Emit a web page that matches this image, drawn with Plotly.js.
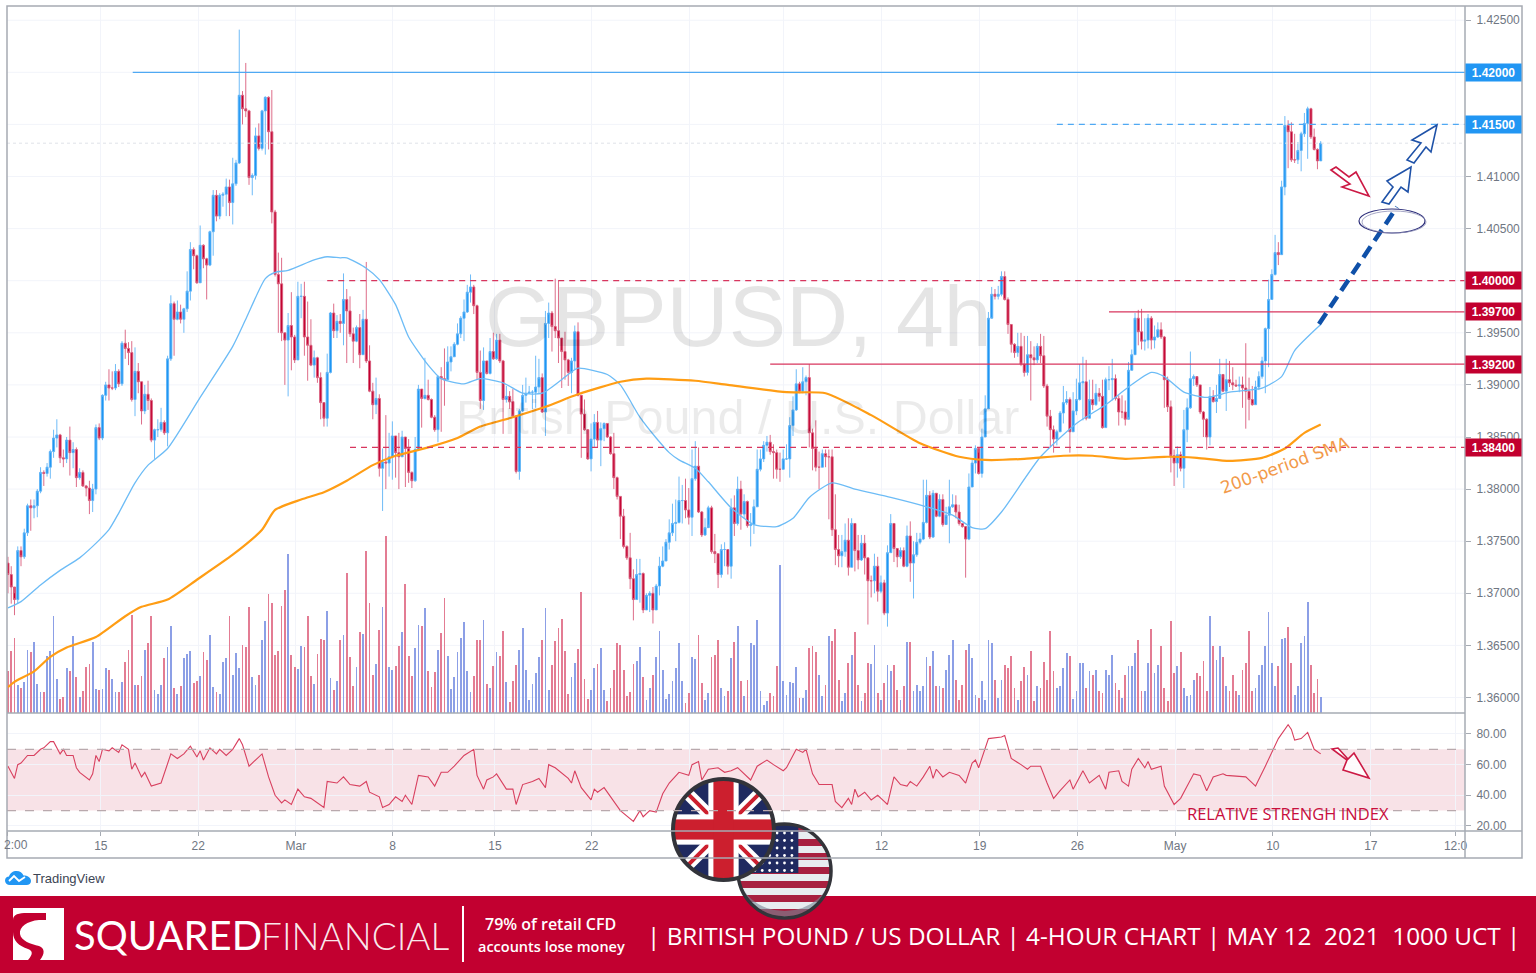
<!DOCTYPE html>
<html><head><meta charset="utf-8">
<script src="https://cdn.plot.ly/plotly-3.0.1.min.js"></script>
<style>html,body{margin:0;padding:0;background:#fff;overflow:hidden}#c{width:1536px;height:973px}</style>
</head><body><div id="c"></div>
<script>
const firstOpen = 1.3729;
const closes = [
1.3718,1.3706,1.3694,1.3741,1.3735,1.3758,1.3784,1.3782,1.3784,1.3798,
1.3816,1.3815,1.3821,1.3836,1.3849,1.3852,1.3830,1.3829,1.3847,1.3835,
1.3838,1.3811,1.3816,1.3803,1.3801,1.3789,1.3800,1.3859,1.3849,1.3890,
1.3900,1.3897,1.3897,1.3913,1.3901,1.3940,1.3935,1.3931,1.3886,1.3913,
1.3903,1.3875,1.3891,1.3885,1.3847,1.3857,1.3857,1.3864,1.3854,1.3925,
1.3978,1.3963,1.3970,1.3963,1.3973,1.3990,1.4030,1.4024,1.3998,1.4034,
1.4021,1.4015,1.4047,1.4082,1.4062,1.4082,1.4083,1.4090,1.4075,1.4093,
1.4113,1.4178,1.4165,1.4163,1.4099,1.4101,1.4139,1.4127,1.4163,1.4176,
1.4143,1.4066,1.4006,1.3997,1.3950,1.3943,1.3957,1.3946,1.3924,1.3985,
1.3985,1.3946,1.3938,1.3919,1.3926,1.3907,1.3883,1.3868,1.3912,1.3969,
1.3952,1.3961,1.3959,1.3982,1.3971,1.3949,1.3942,1.3955,1.3929,1.3963,
1.3923,1.3894,1.3881,1.3887,1.3820,1.3826,1.3825,1.3831,1.3851,1.3835,
1.3831,1.3850,1.3839,1.3816,1.3808,1.3838,1.3896,1.3887,1.3890,1.3886,
1.3869,1.3857,1.3908,1.3906,1.3905,1.3922,1.3927,1.3939,1.3949,1.3964,
1.3970,1.3989,1.3994,1.3976,1.3912,1.3885,1.3923,1.3911,1.3932,1.3925,
1.3943,1.3923,1.3886,1.3889,1.3884,1.3870,1.3817,1.3875,1.3890,1.3892,
1.3893,1.3893,1.3898,1.3907,1.3874,1.3959,1.3969,1.3956,1.3952,1.3945,
1.3932,1.3924,1.3912,1.3923,1.3951,1.3890,1.3872,1.3857,1.3829,1.3848,
1.3864,1.3847,1.3858,1.3863,1.3850,1.3834,1.3811,1.3793,1.3774,1.3745,
1.3734,1.3714,1.3694,1.3718,1.3719,1.3684,1.3698,1.3700,1.3684,1.3707,
1.3726,1.3731,1.3749,1.3758,1.3767,1.3768,1.3789,1.3789,1.3780,1.3773,
1.3810,1.3822,1.3778,1.3756,1.3763,1.3782,1.3740,1.3738,1.3718,1.3742,
1.3742,1.3726,1.3782,1.3767,1.3800,1.3776,1.3788,1.3765,1.3766,1.3783,
1.3819,1.3829,1.3842,1.3845,1.3836,1.3835,1.3819,1.3819,1.3829,1.3829,
1.3861,1.3876,1.3901,1.3894,1.3903,1.3907,1.3854,1.3839,1.3821,1.3821,
1.3834,1.3831,1.3831,1.3761,1.3742,1.3736,1.3740,1.3751,1.3725,1.3767,
1.3741,1.3732,1.3748,1.3734,1.3712,1.3712,1.3726,1.3702,1.3710,1.3681,
1.3739,1.3767,1.3743,1.3735,1.3741,1.3726,1.3755,1.3729,1.3737,1.3749,
1.3752,1.3768,1.3794,1.3754,1.3796,1.3774,1.3790,1.3766,1.3775,1.3783,
1.3785,1.3778,1.3767,1.3764,1.3752,1.3802,1.3825,1.3839,1.3815,1.3850,
1.3877,1.3964,1.3987,1.3985,1.3987,1.4004,1.3982,1.3958,1.3939,1.3931,
1.3937,1.3920,1.3912,1.3929,1.3926,1.3924,1.3937,1.3928,1.3899,1.3870,
1.3857,1.3848,1.3855,1.3873,1.3883,1.3886,1.3855,1.3875,1.3886,1.3902,
1.3903,1.3868,1.3886,1.3881,1.3892,1.3889,1.3859,1.3905,1.3905,1.3906,
1.3887,1.3874,1.3874,1.3867,1.3914,1.3929,1.3964,1.3951,1.3942,1.3943,
1.3964,1.3943,1.3946,1.3953,1.3946,1.3905,1.3879,1.3832,1.3825,1.3833,
1.3820,1.3857,1.3878,1.3906,1.3908,1.3900,1.3874,1.3867,1.3850,1.3889,
1.3884,1.3887,1.3910,1.3894,1.3905,1.3902,1.3900,1.3899,1.3900,1.3897,
1.3894,1.3886,1.3881,1.3898,1.3908,1.3923,1.3954,1.3982,1.4006,1.4027,
1.4025,1.4090,1.4149,1.4143,1.4116,1.4116,1.4125,1.4141,1.4151,1.4165,
1.4138,1.4126,1.4115,1.4132];
const highs = [
1.3735,1.3726,1.3700,1.3745,1.3745,1.3762,1.3786,1.3790,1.3790,1.3800,
1.3821,1.3818,1.3825,1.3838,1.3857,1.3867,1.3853,1.3838,1.3850,1.3860,
1.3845,1.3840,1.3820,1.3818,1.3804,1.3808,1.3805,1.3862,1.3863,1.3891,
1.3903,1.3915,1.3913,1.3920,1.3915,1.3942,1.3953,1.3941,1.3942,1.3936,
1.3921,1.3903,1.3900,1.3904,1.3887,1.3858,1.3867,1.3878,1.3866,1.3928,
1.3986,1.3980,1.3981,1.3977,1.3974,1.4009,1.4037,1.4032,1.4025,1.4053,
1.4035,1.4022,1.4048,1.4087,1.4087,1.4084,1.4085,1.4098,1.4097,1.4118,
1.4116,1.4241,1.4182,1.4209,1.4164,1.4103,1.4147,1.4151,1.4164,1.4177,
1.4177,1.4183,1.4068,1.4027,1.4022,1.3950,1.3969,1.3989,1.3948,1.3999,
1.3997,1.3999,1.3980,1.3963,1.3933,1.3927,1.3912,1.3883,1.3930,1.3970,
1.3978,1.3967,1.3968,1.4007,1.3992,1.3985,1.3955,1.3957,1.3968,1.3972,
1.4018,1.3938,1.3902,1.3907,1.3891,1.3839,1.3871,1.3854,1.3865,1.3851,
1.3854,1.3856,1.3850,1.3848,1.3817,1.3850,1.3900,1.3896,1.3926,1.3905,
1.3887,1.3871,1.3909,1.3917,1.3935,1.3937,1.3937,1.3941,1.3959,1.3966,
1.3982,1.3996,1.4006,1.3996,1.3977,1.3933,1.3936,1.3923,1.3945,1.3950,
1.3949,1.3949,1.3924,1.3899,1.3894,1.3896,1.3871,1.3877,1.3900,1.3907,
1.3899,1.3895,1.3928,1.3925,1.3911,1.3971,1.3979,1.3971,1.4002,1.4000,
1.3945,1.3951,1.3925,1.3926,1.3957,1.3960,1.3890,1.3886,1.3835,1.3863,
1.3872,1.3875,1.3864,1.3864,1.3863,1.3851,1.3854,1.3812,1.3793,1.3781,
1.3746,1.3758,1.3723,1.3733,1.3733,1.3720,1.3700,1.3702,1.3706,1.3709,
1.3735,1.3745,1.3752,1.3771,1.3786,1.3790,1.3812,1.3804,1.3810,1.3801,
1.3838,1.3846,1.3840,1.3779,1.3772,1.3784,1.3784,1.3757,1.3738,1.3747,
1.3749,1.3742,1.3791,1.3794,1.3812,1.3808,1.3795,1.3789,1.3777,1.3790,
1.3838,1.3838,1.3846,1.3851,1.3852,1.3843,1.3838,1.3835,1.3838,1.3843,
1.3869,1.3889,1.3915,1.3903,1.3917,1.3909,1.3920,1.3858,1.3866,1.3836,
1.3838,1.3838,1.3838,1.3838,1.3795,1.3756,1.3756,1.3767,1.3772,1.3772,
1.3767,1.3756,1.3756,1.3756,1.3734,1.3717,1.3738,1.3735,1.3717,1.3713,
1.3746,1.3776,1.3767,1.3743,1.3744,1.3744,1.3765,1.3769,1.3750,1.3758,
1.3758,1.3809,1.3809,1.3798,1.3799,1.3796,1.3795,1.3795,1.3783,1.3809,
1.3795,1.3794,1.3785,1.3767,1.3764,1.3815,1.3828,1.3842,1.3835,1.3858,
1.3890,1.3970,1.3994,1.3992,1.3995,1.4009,1.4009,1.3984,1.3958,1.3940,
1.3950,1.3950,1.3947,1.3947,1.3942,1.3937,1.3940,1.3949,1.3947,1.3901,
1.3876,1.3861,1.3857,1.3875,1.3899,1.3894,1.3888,1.3893,1.3906,1.3920,
1.3927,1.3924,1.3905,1.3905,1.3901,1.3897,1.3905,1.3907,1.3918,1.3925,
1.3910,1.3890,1.3890,1.3885,1.3922,1.3934,1.3969,1.3972,1.3973,1.3964,
1.3968,1.3966,1.3957,1.3960,1.3960,1.3947,1.3908,1.3885,1.3838,1.3841,
1.3836,1.3876,1.3887,1.3932,1.3910,1.3907,1.3900,1.3875,1.3868,1.3898,
1.3895,1.3900,1.3925,1.3907,1.3925,1.3923,1.3917,1.3905,1.3908,1.3908,
1.3940,1.3907,1.3899,1.3904,1.3913,1.3927,1.3955,1.4001,1.4011,1.4044,
1.4037,1.4096,1.4158,1.4154,1.4152,1.4141,1.4133,1.4143,1.4161,1.4167,
1.4166,1.4146,1.4127,1.4134];
const lows = [
1.3700,1.3690,1.3679,1.3690,1.3726,1.3733,1.3755,1.3760,1.3772,1.3773,
1.3796,1.3803,1.3812,1.3810,1.3830,1.3840,1.3825,1.3821,1.3825,1.3813,
1.3820,1.3802,1.3809,1.3802,1.3793,1.3776,1.3778,1.3795,1.3847,1.3847,
1.3885,1.3885,1.3895,1.3895,1.3898,1.3899,1.3925,1.3919,1.3884,1.3870,
1.3892,1.3862,1.3872,1.3876,1.3845,1.3829,1.3850,1.3855,1.3852,1.3841,
1.3923,1.3928,1.3962,1.3959,1.3950,1.3970,1.3981,1.4011,1.3997,1.4011,
1.4012,1.3982,1.4014,1.4024,1.4057,1.4059,1.4071,1.4062,1.4062,1.4054,
1.4091,1.4112,1.4150,1.4157,1.4092,1.4082,1.4097,1.4125,1.4125,1.4121,
1.4126,1.4055,1.4004,1.3950,1.3942,1.3900,1.3889,1.3914,1.3921,1.3928,
1.3964,1.3928,1.3904,1.3918,1.3907,1.3902,1.3867,1.3860,1.3860,1.3911,
1.3945,1.3945,1.3950,1.3938,1.3921,1.3946,1.3921,1.3941,1.3916,1.3929,
1.3921,1.3893,1.3867,1.3872,1.3812,1.3779,1.3800,1.3812,1.3809,1.3811,
1.3800,1.3831,1.3802,1.3806,1.3801,1.3807,1.3838,1.3859,1.3886,1.3885,
1.3868,1.3855,1.3845,1.3855,1.3880,1.3905,1.3913,1.3927,1.3938,1.3945,
1.3942,1.3969,1.3979,1.3968,1.3905,1.3877,1.3876,1.3910,1.3910,1.3924,
1.3924,1.3921,1.3853,1.3883,1.3877,1.3869,1.3815,1.3809,1.3874,1.3883,
1.3892,1.3877,1.3878,1.3892,1.3873,1.3851,1.3945,1.3932,1.3945,1.3921,
1.3897,1.3905,1.3899,1.3892,1.3915,1.3889,1.3830,1.3856,1.3828,1.3817,
1.3840,1.3840,1.3822,1.3846,1.3849,1.3833,1.3800,1.3790,1.3752,1.3743,
1.3732,1.3704,1.3674,1.3694,1.3691,1.3681,1.3684,1.3682,1.3671,1.3684,
1.3698,1.3725,1.3745,1.3742,1.3755,1.3750,1.3767,1.3767,1.3772,1.3766,
1.3755,1.3808,1.3777,1.3754,1.3755,1.3766,1.3738,1.3729,1.3705,1.3715,
1.3726,1.3718,1.3714,1.3755,1.3765,1.3761,1.3772,1.3763,1.3745,1.3757,
1.3783,1.3817,1.3826,1.3836,1.3833,1.3810,1.3810,1.3807,1.3819,1.3828,
1.3811,1.3851,1.3875,1.3892,1.3892,1.3890,1.3840,1.3818,1.3817,1.3800,
1.3821,1.3821,1.3771,1.3755,1.3727,1.3725,1.3725,1.3735,1.3717,1.3725,
1.3721,1.3723,1.3731,1.3718,1.3670,1.3696,1.3700,1.3692,1.3700,1.3679,
1.3668,1.3739,1.3730,1.3725,1.3733,1.3725,1.3725,1.3711,1.3695,1.3735,
1.3747,1.3751,1.3767,1.3752,1.3753,1.3773,1.3773,1.3764,1.3772,1.3748,
1.3782,1.3772,1.3765,1.3763,1.3715,1.3751,1.3802,1.3815,1.3814,1.3811,
1.3850,1.3877,1.3965,1.3982,1.3982,1.3985,1.3981,1.3949,1.3931,1.3926,
1.3927,1.3918,1.3908,1.3909,1.3885,1.3919,1.3921,1.3921,1.3897,1.3860,
1.3840,1.3835,1.3842,1.3855,1.3863,1.3881,1.3835,1.3855,1.3871,1.3885,
1.3866,1.3866,1.3868,1.3876,1.3880,1.3884,1.3858,1.3859,1.3895,1.3885,
1.3885,1.3861,1.3868,1.3861,1.3869,1.3914,1.3929,1.3938,1.3934,1.3933,
1.3935,1.3934,1.3935,1.3945,1.3944,1.3878,1.3874,1.3816,1.3803,1.3811,
1.3817,1.3801,1.3845,1.3877,1.3899,1.3898,1.3872,1.3850,1.3838,1.3842,
1.3883,1.3873,1.3890,1.3893,1.3875,1.3898,1.3895,1.3898,1.3893,1.3878,
1.3858,1.3866,1.3880,1.3881,1.3895,1.3906,1.3892,1.3917,1.3982,1.4005,
1.4015,1.4025,1.4082,1.4108,1.4114,1.4113,1.4112,1.4105,1.4138,1.4117,
1.4136,1.4125,1.4107,1.4115];
const volumes = [
125,185,225,85,75,92,188,182,212,88,63,63,170,185,292,102,43,48,135,125,
230,108,48,66,138,147,212,72,70,73,135,128,102,63,63,93,153,188,295,84,
84,112,188,210,292,68,58,85,165,198,260,75,58,82,165,176,185,90,97,110,
183,158,235,78,63,57,153,165,292,115,180,135,203,198,319,108,85,114,218,275,
358,331,173,185,322,370,478,173,138,133,200,198,290,110,87,176,222,218,307,105,
70,97,218,235,421,168,80,138,242,236,487,330,115,147,250,319,532,138,128,142,
201,242,388,170,110,194,265,260,316,126,78,122,188,239,346,170,72,108,183,225,
274,125,63,110,218,218,280,86,76,140,182,170,245,92,33,95,144,188,254,129,
39,86,120,167,218,316,69,144,215,254,283,186,56,108,149,191,364,101,42,69,
134,146,195,69,36,74,130,211,203,128,51,62,146,155,198,109,38,74,114,167,
245,130,42,58,95,135,210,95,30,60,168,162,235,90,40,60,168,175,218,75,
50,65,165,213,260,95,50,100,210,205,280,65,25,35,60,50,142,445,95,55,
92,90,138,45,45,70,195,200,182,115,50,85,230,215,253,100,35,60,150,175,
242,85,35,60,150,148,203,60,40,90,145,125,145,70,40,80,212,212,65,85,
65,80,168,140,185,80,80,75,130,175,218,100,40,85,188,208,165,55,45,95,
40,220,210,100,45,100,145,135,170,75,40,95,138,115,185,35,80,75,152,100,
245,125,75,80,135,180,172,42,65,150,150,75,125,115,130,65,60,130,115,175,
90,70,45,115,140,140,180,220,65,65,150,253,120,145,200,75,35,277,120,140,
182,75,50,55,100,120,110,155,65,292,200,160,200,168,80,65,115,65,55,130,
150,245,65,75,115,145,200,302,150,80,140,223,225,257,150,55,80,210,230,333,
145,60,102,48];
const rsiX = [0,2,3,4,6,8,10,11,13,14,16,17,18,20,21,22,25,26,27,28,29,31,32,34,35,37,38,39,41,42,44,47,50,52,54,56,58,59,60,62,64,65,67,69,71,72,74,76,78,80,82,84,85,87,89,91,93,97,98,101,103,105,108,110,111,114,115,117,119,121,122,124,126,129,131,133,135,137,140,143,144,146,147,149,150,153,155,156,158,161,163,165,166,168,172,173,174,176,179,180,181,183,188,192,194,195,197,199,201,203,206,209,210,212,213,215,218,220,222,224,226,228,230,233,235,238,239,242,244,245,247,249,253,254,256,258,259,260,261,263,265,267,269,270,272,274,276,277,279,281,283,284,285,287,289,292,294,296,297,298,301,305,306,308,311,313,314,317,319,321,323,326,327,330,332,335,337,338,341,342,344,345,347,349,350,351,354,355,358,360,364,366,368,370,373,374,380,383,386,389,390,393,394,395,397,399,401,403];
const rsiV = [59,51,60,61,66,66,70,71,75,75,67,70,66,66,58,55,50,54,66,62,70,69,71,68,73,70,57,61,52,55,46,48,67,64,67,72,65,69,63,71,67,70,66,70,77,73,59,63,67,52,40,35,37,34,44,39,38,32,49,48,52,47,46,49,42,39,32,34,39,36,40,34,53,52,46,55,55,59,66,70,53,44,50,52,54,44,44,34,47,49,51,45,60,58,51,48,56,45,37,44,42,45,30,23,30,26,30,29,41,48,55,53,60,62,50,57,58,55,56,58,54,50,59,63,60,56,58,70,68,70,54,47,47,36,32,38,34,44,39,42,37,40,36,34,52,47,46,49,46,52,59,51,57,52,55,53,48,61,63,58,77,78,79,64,60,57,59,59,48,38,43,50,44,56,48,53,44,55,56,49,46,57,64,58,62,57,59,46,34,38,54,53,43,52,54,53,52,46,59,72,77,86,83,76,77,81,70,67];
const ma50X = [0,4,10,16,22,28,31,34,39,43,49,59,69,73,79,82,86,94,98,102,104,110,114,119,123,129,133,140,145,152,158,164,172,175,184,188,194,199,203,206,211,215,222,229,236,241,246,253,260,271,282,290,296,300,305,317,328,337,344,351,355,361,368,375,385,391,395,403];
const ma50V = [1.3686,1.3692,1.3708,1.3722,1.3734,1.3751,1.3761,1.3777,1.3806,1.3823,1.3839,1.3888,1.3937,1.3963,1.4002,1.4008,1.4010,1.4020,1.4023,1.4022,1.4022,1.4012,1.4001,1.3977,1.3946,1.3919,1.3906,1.3901,1.3906,1.3902,1.3892,1.3892,1.3910,1.3916,1.3910,1.3900,1.3869,1.3849,1.3835,1.3828,1.3820,1.3807,1.3782,1.3766,1.3764,1.3772,1.3792,1.3806,1.3800,1.3792,1.3783,1.3775,1.3763,1.3762,1.3778,1.3831,1.3863,1.3881,1.3898,1.3912,1.3908,1.3893,1.3888,1.3893,1.3897,1.3908,1.3933,1.3958];
const sma200X = [0,2,8,13,18,27,36,41,49,58,69,78,82,90,97,104,112,119,129,138,145,155,165,175,188,196,211,221,239,251,265,280,292,300,312,324,333,343,355,365,375,385,392,398,403];
const sma200V = [1.3610,1.3615,1.3625,1.3639,1.3648,1.3658,1.3678,1.3687,1.3694,1.3713,1.3737,1.3761,1.3780,1.3790,1.3797,1.3808,1.3823,1.3832,1.3840,1.3849,1.3860,1.3869,1.3879,1.3891,1.3903,1.3906,1.3904,1.3900,1.3893,1.3892,1.3871,1.3844,1.3831,1.3828,1.3829,1.3832,1.3832,1.3829,1.3831,1.3830,1.3827,1.3830,1.3839,1.3854,1.3862];
const priceTicks = [1.425,1.41,1.405,1.395,1.39,1.385,1.38,1.375,1.37,1.365,1.36];
const priceGrid = [1.425,1.42,1.415,1.41,1.405,1.40,1.395,1.39,1.385,1.38,1.375,1.37,1.365,1.36];
const rsiTicks = [20,40,60,80];
const dateTickPos = [0,28.5,58.4,88.4,118.1,149.5,179.2,209.2,238.2,268.2,298.3,328.3,358.3,388.3,418.4,444.4];
const dateTickText = ['','15','22','Mar','8','15','22','29','5','12','19','26','May','10','17','12:0'];
const levelPrice = [1.42,1.415,1.40,1.397,1.392,1.384];
const levelStart = [38.3,322,98,338,234,105];
const levelBlue = [true,true,false,false,false,false];
const levelDash = ['solid','dash','dash','solid','solid','dash'];
const currentPrice = 1.4132;

const W=1536,H=973;
const fx=x=>x/W, fy=y=>1-y/H;
const idx=closes.map((_,i)=>i);
const opens=closes.map((c,i)=>i?closes[i-1]:firstOpen);
const volColors=closes.map((c,i)=>c>=opens[i]?'#8c9fe6':'#e37c93');
const XMAX=447.3, XMIN=-0.3;
const gray='#6f7682', frame='#a6abb3';
const poly=pts=>'M'+pts.map(p=>fx(p[0])+','+fy(p[1])).join('L')+'Z';
const line=(x0,y0,x1,y1,color,width,dash)=>({type:'line',xref:'paper',yref:'paper',x0:fx(x0),y0:fy(y0),x1:fx(x1),y1:fy(y1),line:{color,width,dash:dash||'solid'}});
const oval=(cx,cy,rx,ry,color,width)=>({type:'circle',xref:'paper',yref:'paper',x0:fx(cx-rx),x1:fx(cx+rx),y0:fy(cy-ry),y1:fy(cy+ry),line:{color,width}});
const outline=(pts,color)=>({type:'path',xref:'paper',yref:'paper',path:poly(pts),line:{color,width:1.6},fillcolor:'rgba(255,255,255,0.85)'});

const traces=[
 {type:'bar',x:idx,y:volumes,xaxis:'x',yaxis:'y',width:0.55,marker:{color:volColors,line:{width:0}},hoverinfo:'skip'},
 {type:'scatter',mode:'lines',x:ma50X,y:ma50V,xaxis:'x',yaxis:'y2',line:{color:'#6dbcf6',width:1.3,shape:'spline',smoothing:0.6},hoverinfo:'skip'},
 {type:'scatter',mode:'lines',x:sma200X,y:sma200V,xaxis:'x',yaxis:'y2',line:{color:'#ff9d14',width:2.2,shape:'spline',smoothing:0.6},hoverinfo:'skip'},
 {type:'candlestick',x:idx,open:opens,high:highs,low:lows,close:closes,xaxis:'x',yaxis:'y2',whiskerwidth:0,
  increasing:{line:{color:'#5fb3f6',width:0.9},fillcolor:'#1e96f3'},
  decreasing:{line:{color:'#d95c7c',width:0.9},fillcolor:'#c2002f'},hoverinfo:'skip'},
 {type:'scatter',mode:'lines',x:rsiX,y:rsiV,xaxis:'x',yaxis:'y3',line:{color:'#d8405f',width:1.1},hoverinfo:'skip'}
];

const shapes=[
 {type:'rect',xref:'paper',yref:'paper',x0:0,x1:1,y0:fy(973),y1:fy(896),fillcolor:'#c20030',line:{width:0},layer:'below'},
 {type:'rect',xref:'x',yref:'y3',x0:XMIN,x1:XMAX,y0:30,y1:70,fillcolor:'rgba(200,30,70,0.13)',line:{width:0},layer:'below'},
 {type:'line',xref:'x',yref:'y3',x0:XMIN,x1:XMAX,y0:70,y1:70,line:{color:'#b9a9ad',width:1.2,dash:'dash'}},
 {type:'line',xref:'x',yref:'y3',x0:XMIN,x1:XMAX,y0:30,y1:30,line:{color:'#b9a9ad',width:1.2,dash:'dash'}},
 {type:'line',xref:'x',yref:'y2',x0:XMIN,x1:XMAX,y0:currentPrice,y1:currentPrice,line:{color:'#dfe2e8',width:1,dash:'dot'}},
 ...levelPrice.map((p,i)=>({type:'line',xref:'x',yref:'y2',x0:levelStart[i],x1:XMAX,y0:p,y1:p,
   line:{color:levelBlue[i]?'#4fa9f3':'#d8365e',width:1.2,dash:levelDash[i]==='dash'?'6px,5px':'solid'}})),
 {type:'rect',xref:'paper',yref:'paper',x0:fx(7),x1:fx(1522),y0:fy(858),y1:fy(6),line:{color:frame,width:1.5}},
 line(1465,6,1465,858,frame,1.5),
 line(7,713,1465,713,frame,1.5),
 line(7,831,1522,831,frame,1.5),
 line(1319,324,1397,207,'#0f50a8',4.5,'13px,7px'),
 oval(1392,221,33,12,'#2c2e7a',1.2),
 oval(1394,222,32,11,'#8f90b8',0.8),
 outline([[1331,170],[1336,167],[1349,177],[1356,172],[1369,196],[1342,187],[1350,184]],'#cc1a45'),
 outline([[1332,749],[1338,748],[1348,759],[1354,753],[1369,778],[1343,770],[1347,760]],'#cc1a45'),
 outline([[1382,202],[1393,187],[1387,181],[1411,167],[1408,192],[1401,187],[1389,204]],'#1f52a8'),
 outline([[1407,160],[1421,143],[1412,140],[1437,125],[1431,152],[1426,147],[1414,163]],'#1f52a8'),
 line(463,906,463,962,'#ffffff',2)
];

const tag=(p,blue)=>({xref:'paper',yref:'y2',x:fx(1493),y:p,text:p.toFixed(5),showarrow:false,xanchor:'center',yanchor:'middle',
  font:{family:'Liberation Sans',size:12,color:'#fff',weight:700},bgcolor:blue?'#2196f3':'#c2002f',width:51,height:13,borderpad:2});
const txt=(x,y,text,size,color,extra)=>Object.assign({xref:'paper',yref:'paper',x:fx(x),y:fy(y),text,showarrow:false,xanchor:'center',yanchor:'middle',
  font:{family:'Open Sans',size,color}},extra||{});
const annotations=[
 ...levelPrice.map((p,i)=>tag(p,levelBlue[i])),
 txt(738,316,'GBPUSD, 4h',86,'rgba(0,0,0,0.10)',{font:{family:'Liberation Sans',size:86,color:'rgba(0,0,0,0.10)'}}),
 txt(737,417,'British Pound / U.S. Dollar',48,'rgba(0,0,0,0.08)',{font:{family:'Liberation Sans',size:48.5,color:'rgba(0,0,0,0.08)'}}),
 txt(1285,465,'200-period SMA',17,'#f29a4a',{textangle:-20,font:{family:'DejaVu Sans',size:17,color:'#f29a4a'}}),
 txt(1288,813,'RELATIVE STRENGH INDEX',17,'#c8103e',{font:{family:'Open Sans',size:16.5,color:'#c8103e'}}),
 txt(69,878,'TradingView',12,'#3c4453',{font:{family:'Liberation Sans',size:13,color:'#3c4453'}}),
 txt(16,845,'2:00',12,gray,{font:{family:'Liberation Sans',size:12,color:gray}}),
 txt(168,935,'SQUARED',40,'#fff',{font:{family:'Lato',size:40,color:'#fff'}}),
 txt(355,935,'FINANCIAL',37,'#fff',{font:{family:'Lato',size:37,color:'rgba(255,255,255,0.92)',weight:300}}),
 txt(550,924,'79% of retail CFD',16,'#fff',{font:{family:'Open Sans',size:16,color:'#fff',weight:600}}),
 txt(551,946,'accounts lose money',14.5,'#fff',{font:{family:'Open Sans',size:14.5,color:'#fff',weight:600}}),
 txt(1083.5,935,'| BRITISH POUND / US DOLLAR | 4-HOUR CHART | MAY 12\u00a0\u00a02021\u00a0\u00a01000 UCT |',24.3,'#fff')
];

function svgUri(s){return 'data:image/svg+xml;charset=utf-8,'+encodeURIComponent(s);}
const ukSvg=`<svg xmlns="http://www.w3.org/2000/svg" width="212" height="212" viewBox="0 0 106 106"><defs><clipPath id="c"><circle cx="53" cy="53" r="50"/></clipPath></defs><g clip-path="url(#c)"><rect width="106" height="106" fill="#1f2a60"/><path d="M0 0L106 106M106 0L0 106" stroke="#fff" stroke-width="12"/><path d="M0 0L106 106M106 0L0 106" stroke="#cc1f2e" stroke-width="4"/><rect x="0" y="38" width="106" height="30" fill="#fff"/><rect x="38" y="0" width="30" height="106" fill="#fff"/><rect x="0" y="43" width="106" height="20" fill="#cc1f2e"/><rect x="43" y="0" width="20" height="106" fill="#cc1f2e"/><path d="M3 53A50 50 0 0 0 103 53A50 54 0 0 1 3 53Z" fill="rgba(0,0,0,0.25)"/></g><circle cx="53" cy="53" r="50" fill="none" stroke="#33343a" stroke-width="4"/></svg>`;
let stars='';
for(let r=0;r<6;r++)for(let c=0;c<6;c++)stars+=`<circle cx="${20+c*7.5}" cy="${12+r*7.5}" r="1.4" fill="#fff"/>`;
let stripes='';
for(let s=0;s<7;s++)stripes+=`<rect x="0" y="${4+s*14}" width="100" height="7" fill="#a82040"/>`;
const usSvg=`<svg xmlns="http://www.w3.org/2000/svg" width="200" height="200" viewBox="0 0 100 100"><defs><clipPath id="d"><circle cx="50" cy="50" r="47"/></clipPath></defs><g clip-path="url(#d)"><rect width="100" height="100" fill="#e8edf0"/>${stripes}<rect x="0" y="0" width="64" height="52" fill="#1f2a60"/>${stars}<path d="M3 50A47 47 0 0 0 97 50A47 40 0 0 1 3 50Z" fill="rgba(120,135,150,0.6)"/></g><circle cx="50" cy="50" r="47" fill="none" stroke="#33343a" stroke-width="3.5"/></svg>`;
const logoSvg=`<svg xmlns="http://www.w3.org/2000/svg" width="204" height="208" viewBox="0 0 51 52"><rect width="51" height="52" fill="#fff"/><path d="M26 12C14 13 6 19 7 26C8 33 18 36 26 38C32 40 32 46 27 52H15C20 46 20 43 15 41C6 38 0 33 0 24V12C0 6 6 5 14 5H33V12Z" fill="#c20030"/></svg>`;
const tvSvg=`<svg xmlns="http://www.w3.org/2000/svg" width="104" height="60" viewBox="0 0 26 15"><path d="M5 15C2 15 0 13 0 10.500C0 8 2 6.500 4 6.500C5 3 8 1 11.500 1C15 1 17.500 3 18.500 5.500C22.500 5.500 26 7.500 26 11C26 13.500 24 15 21.500 15Z" fill="#2196f3"/><path d="M4 11L9 6L14 11L20 7" fill="none" stroke="#fff" stroke-width="1.800"/></svg>`;
const img=(svg,x,y,w,h)=>({source:svgUri(svg),xref:'paper',yref:'paper',x:fx(x),y:fy(y),sizex:w/W,sizey:h/H,xanchor:'left',yanchor:'top',sizing:'stretch',layer:'above'});

const layout={
 width:W,height:H,margin:{l:0,r:0,t:0,b:0,pad:0},paper_bgcolor:'#fff',plot_bgcolor:'rgba(0,0,0,0)',
 showlegend:false,hovermode:false,bargap:0,boxgap:0.2,boxgroupgap:0.2,
 xaxis:{domain:[fx(7),fx(1465)],range:[XMIN,XMAX],anchor:'y3',tickmode:'array',tickvals:dateTickPos,ticktext:dateTickText,
  showgrid:true,gridcolor:'#f2f4fa',gridwidth:1,ticks:'outside',ticklen:4,tickcolor:frame,showline:false,zeroline:false,
  tickfont:{family:'Liberation Sans',size:12,color:gray},rangeslider:{visible:false}},
 yaxis:{domain:[fy(713),fy(7)],range:[0,2118],showgrid:false,showticklabels:false,ticks:'',zeroline:false,showline:false,anchor:'x'},
 yaxis2:{domain:[fy(713),fy(7)],overlaying:'y',side:'right',anchor:'x',range:[1.35851,1.42627],tickmode:'array',tickvals:priceTicks,ticktext:priceTicks.map(v=>v.toFixed(5)),
  showgrid:false,ticks:'outside',ticklen:5,ticklabelstandoff:3,tickcolor:frame,zeroline:false,showline:false,tickfont:{family:'Liberation Sans',size:12,color:gray}},
 yaxis3:{domain:[fy(831),fy(713)],side:'right',anchor:'x',range:[16.7,93.7],tickmode:'array',tickvals:rsiTicks,ticktext:rsiTicks.map(v=>v.toFixed(2)),
  showgrid:true,gridcolor:'#f2f4fa',ticks:'outside',ticklen:5,ticklabelstandoff:3,tickcolor:frame,zeroline:false,showline:false,tickfont:{family:'Liberation Sans',size:12,color:gray}},
 shapes:[
  ...priceGrid.map(p=>({type:'line',xref:'x',yref:'y2',x0:XMIN,x1:XMAX,y0:p,y1:p,line:{color:'#f2f4fa',width:1},layer:'below'})),
  ...shapes],
 annotations,
 images:[img(usSvg,735,821,99,100),img(ukSvg,670,776,107,107),img(logoSvg,13,908,51,52),img(tvSvg,5,870,26,15)]
};
Plotly.newPlot('c',traces,layout,{staticPlot:true,displayModeBar:false,responsive:false});
</script>
</body></html>
